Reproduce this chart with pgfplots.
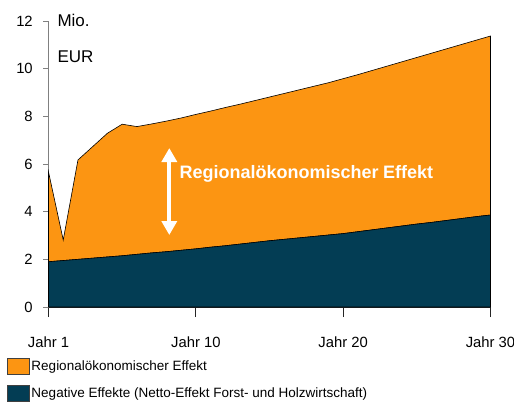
\documentclass[border=0pt]{standalone}
\usepackage{fontspec}
\setmainfont{Liberation Sans}
\usepackage{pgfplots}
\pgfplotsset{compat=1.18}
\usepackage{pgfplotstable}
\usetikzlibrary{arrows.meta}
\definecolor{reorange}{RGB}{252,149,18}
\definecolor{renavy}{RGB}{3,61,84}

\pgfplotstableread{
jahr neg reg
0 1.90 3.77
1 1.95 0.86
2 2.00 4.17
3 2.05 4.68
4 2.10 5.19
5 2.15 5.52
6 2.21 5.36
7 2.27 5.41
8 2.32 5.48
9 2.38 5.55
10 2.44 5.64
11 2.51 5.71
12 2.57 5.80
13 2.64 5.87
14 2.71 5.95
15 2.78 6.03
16 2.84 6.12
17 2.90 6.21
18 2.96 6.30
19 3.02 6.39
20 3.08 6.50
21 3.16 6.59
22 3.24 6.69
23 3.32 6.79
24 3.40 6.89
25 3.48 6.99
26 3.55 7.10
27 3.63 7.20
28 3.71 7.30
29 3.79 7.40
30 3.86 7.51
}\data

\begin{document}
\begin{tikzpicture}
\begin{axis}[
  scale only axis, width=442bp, height=286bp,
  xmin=0, xmax=30, ymin=0, ymax=12,
  clip=false,
  axis x line*=bottom, axis y line*=left,
  x axis line style={black!85, line width=0.8bp},
  y axis line style={gray, line width=0.8bp},
  tick align=outside,
  xtick={0,10,20,30}, xticklabels={Jahr 1,Jahr 10,Jahr 20,Jahr 30},
  ytick={0,2,4,6,8,10,12},
  xtick style={black!85, line width=0.8bp, /pgfplots/major tick length=10bp},
  ytick style={gray, line width=0.8bp, /pgfplots/major tick length=5bp},
  tick label style={font=\fontsize{14.8bp}{18bp}\selectfont},
  xticklabel style={yshift=-22bp},
  yticklabel style={xshift=-8bp},
  /pgf/number format/assume math mode=true,
  stack plots=y,
  reverse legend,
  legend style={at={(rel axis cs:0,0)}, anchor=north west, xshift=-42bp, yshift=-51bp,
    draw=none, fill=none, inner sep=0pt, row sep=9.5bp,
    font=\fontsize{13.5bp}{16bp}\selectfont,
    cells={anchor=west}},
  legend image code/.code={\draw[#1, draw=black!75, line width=0.8bp] (0bp,-8bp) rectangle (22bp,8bp);},
]
\addplot[fill=renavy, draw=black, line width=0.6bp] table[x=jahr,y=neg]{\data} \closedcycle;
\addlegendentry{Negative Effekte (Netto-Effekt Forst- und Holzwirtschaft)}
\addplot[fill=reorange, draw=black, line width=0.6bp] table[x=jahr,y=reg]{\data} \closedcycle;
\addlegendentry{Regionalökonomischer Effekt}

\coordinate (mio) at (axis cs:0.6,11.75);
\coordinate (eur) at (axis cs:0.6,10.24);
\coordinate (arrB) at (axis cs:8.2,3.02);
\coordinate (arrT) at (axis cs:8.2,6.67);
\coordinate (lab) at (axis cs:8.88,5.41);
\end{axis}
\node[anchor=base west, inner sep=0pt, font=\fontsize{17bp}{20bp}\selectfont] at (mio) {Mio.};
\node[anchor=base west, inner sep=0pt, font=\fontsize{17bp}{20bp}\selectfont] at (eur) {EUR};
\draw[white, line width=4bp, {Triangle[width=15bp,length=14bp]}-{Triangle[width=15bp,length=14bp]}] (arrB) -- (arrT);
\node[anchor=base west, inner sep=0pt, text=white, font=\bfseries\fontsize{18bp}{20bp}\selectfont] at (lab) {Regionalökonomischer\hspace{0.25em}Effekt};
\pgfresetboundingbox
\useasboundingbox (-48.5bp,-96bp) rectangle (465.5bp,307bp);
\end{tikzpicture}
\end{document}
